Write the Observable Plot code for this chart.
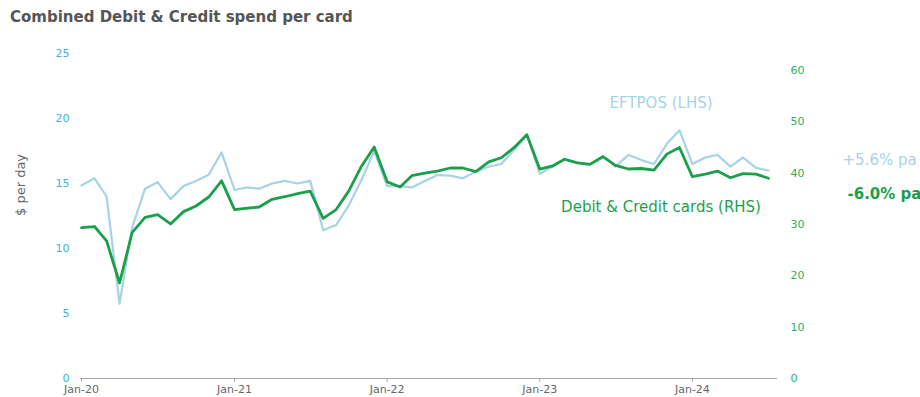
<!DOCTYPE html>
<html>
<head>
<meta charset="utf-8">
<script src="https://cdn.jsdelivr.net/npm/d3@7"></script>
<script src="https://cdn.jsdelivr.net/npm/@observablehq/plot@0.6"></script>
<style>
  html, body { margin: 0; padding: 0; background: #fff; overflow: hidden; }
  #wrap { position: relative; width: 920px; height: 397px; }
  #title { position: absolute; left: 10px; top: 7px; font: bold 15px "DejaVu Sans", Verdana, sans-serif; color: #555; line-height: 20px; white-space: nowrap; z-index: 2; }
</style>
</head>
<body>
<div id="wrap">
  <div id="title">Combined Debit &amp; Credit spend per card</div>
  <div id="chart"></div>
</div>
<script>
// ---- Data ----
const startMonth = "2020-01-01";
const eftpos = [14.85, 15.4, 14.0, 5.75, 11.6, 14.6, 15.1, 13.8, 14.8, 15.2, 15.7, 17.4,
  14.5, 14.7, 14.6, 15.0, 15.2, 15.0, 15.2, 11.4, 11.8, 13.3, 15.3, 17.5,
  14.8, 14.8, 14.7, 15.2, 15.65, 15.6, 15.4, 15.9, 16.3, 16.5, 17.6, 18.75,
  15.75, 16.3, 16.9, 16.6, 16.5, 17.1, 16.3, 17.2, 16.8, 16.5, 18.05, 19.1,
  16.5, 17.0, 17.2, 16.3, 17.0, 16.2, 16.0];
const debitCredit = [29.4, 29.6, 26.8, 18.6, 28.4, 31.4, 31.9, 30.1, 32.5, 33.6, 35.4, 38.5,
  32.9, 33.2, 33.4, 34.9, 35.4, 36.0, 36.5, 31.2, 32.9, 36.5, 41.4, 45.1,
  38.3, 37.3, 39.5, 40.0, 40.4, 41.0, 41.0, 40.3, 42.2, 43.0, 45.0, 47.5,
  40.8, 41.4, 42.7, 42.0, 41.7, 43.2, 41.5, 40.8, 40.9, 40.6, 43.7, 45.0,
  39.3, 39.8, 40.4, 39.1, 39.9, 39.8, 39.0];
const xTickDates = ["2020-01-01", "2021-01-01", "2022-01-01", "2023-01-01", "2024-01-01"];
const xTickLabels = ["Jan-20", "Jan-21", "Jan-22", "Jan-23", "Jan-24"];
const leftTicks = [0, 5, 10, 15, 20, 25];
const rightTicks = [0, 10, 20, 30, 40, 50, 60];
const leftMax = 25, rightMax = 63.3;
const seriesLabels = [
  {text: "EFTPOS (LHS)", date: "2023-10-18", value: 21.2, series: "eftpos"},
  {text: "Debit & Credit cards (RHS)", date: "2023-10-18", value: 13.2, series: "dc"}
];
const eftposGrowth = [{text: "+5.6% pa", value: 16.8}];
const dcGrowth = [{text: "-6.0% pa", value: 14.2}];

// ---- Build ----
const k = leftMax / rightMax;
const months = d3.utcMonth.range(new Date(startMonth), d3.utcMonth.offset(new Date(startMonth), eftpos.length));
const eData = eftpos.map((v, i) => ({date: months[i], v}));
const dData = debitCredit.map((v, i) => ({date: months[i], v: v * k}));
const tickMap = new Map(xTickDates.map((d, i) => [+new Date(d), xTickLabels[i]]));

const blue = "#a6d3e6", green = "#1b9f4b", leftTickColor = "#45b0d7", rightTickColor = "#2eae62";

const chart = Plot.plot({
  width: 920,
  height: 397,
  marginTop: 53,
  marginBottom: 19,
  marginLeft: 80,
  marginRight: 143,
  style: {fontFamily: "'DejaVu Sans', Verdana, sans-serif", fontSize: "11px", background: "transparent", overflow: "visible"},
  x: {type: "utc", domain: [months[0], months[months.length - 1]], range: [81, 768]},
  y: {domain: [0, leftMax]},
  marks: [
    Plot.ruleY([0], {stroke: "#a8a8a8", strokeWidth: 1}),
    Plot.axisX({ticks: xTickDates.map(d => new Date(d)), tickFormat: d => tickMap.get(+d), tickSize: 4, tickPadding: 3, stroke: "#a8a8a8", fill: "#666", label: null, fontSize: 11}),
    Plot.axisY({ticks: leftTicks, tickSize: 0, tickPadding: 11, fill: leftTickColor, label: null, fontSize: 11}),
    Plot.text(rightTicks, {frameAnchor: "right", y: d => d * k, text: d => String(d), dx: 13, textAnchor: "start", fill: rightTickColor, fontSize: 11}),
    Plot.text(["$ per day"], {frameAnchor: "left", rotate: -90, dx: -60, fill: "#666", fontSize: 13}),
    Plot.lineY(eData, {x: "date", y: "v", stroke: blue, strokeWidth: 2.2}),
    Plot.lineY(dData, {x: "date", y: "v", stroke: green, strokeWidth: 2.8}),
    Plot.text(seriesLabels, {x: d => new Date(d.date), y: "value", text: "text", fill: d => d.series === "dc" ? green : blue, fontSize: 15, textAnchor: "middle"}),
    Plot.text(eftposGrowth, {frameAnchor: "right", y: "value", text: "text", dx: 65, textAnchor: "start", fill: blue, fontSize: 15}),
    Plot.text(dcGrowth, {frameAnchor: "right", y: "value", text: "text", dx: 70, textAnchor: "start", fill: green, fontSize: 15, fontWeight: 600})
  ]
});
document.getElementById("chart").appendChild(chart);
</script>
</body>
</html>
